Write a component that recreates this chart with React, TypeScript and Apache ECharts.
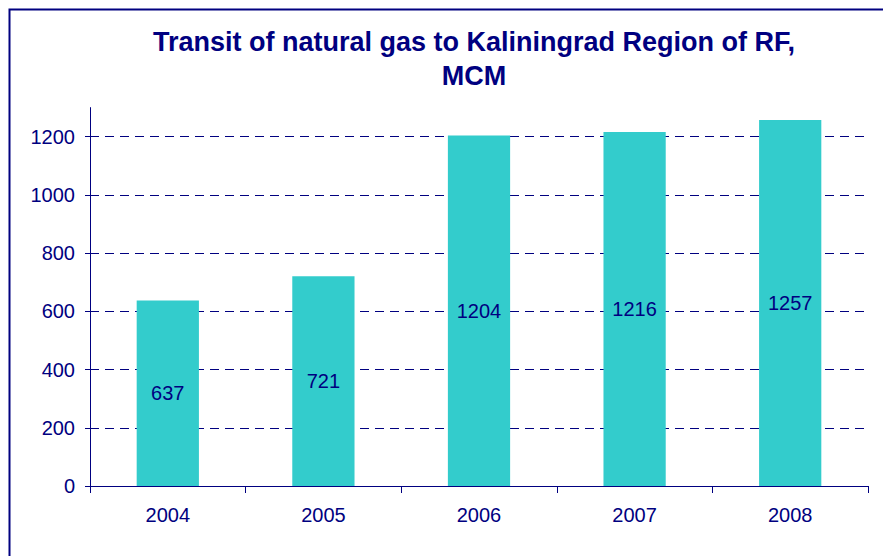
import React, { useEffect, useRef } from "react";
import * as echarts from "echarts";

const categories = ["2004", "2005", "2006", "2007", "2008"];
const transitValues = [637, 721, 1204, 1216, 1257];
const yTickValues = [0, 200, 400, 600, 800, 1000, 1200];
const yAxisMax = 1300;
const titleLines = ["Transit of natural gas to Kaliningrad Region of RF,", "MCM"];

const NAVY = "#000080";
const BAR = "#33CCCC";
const FONT = "'Liberation Sans', Arial, sans-serif";

export default function App() {
  const ref = useRef<HTMLDivElement>(null);
  useEffect(() => {
    if (!ref.current) return;
    const chart = echarts.init(ref.current, null, { renderer: "svg" });
    const splitColors = yTickValues.map(() => NAVY).concat(["rgba(0,0,0,0)"]);
    chart.setOption({
      animation: false,
      backgroundColor: "#ffffff",
      textStyle: { fontFamily: FONT },
      graphic: [
        {
          type: "rect",
          shape: { x: 9.5, y: 9.5, width: 1000, height: 1000 },
          style: { fill: "none", stroke: NAVY, lineWidth: 2 },
          silent: true,
        },
        {
          type: "text",
          x: 474,
          y: 25,
          style: {
            text: titleLines.join("\n"),
            fill: NAVY,
            font: `bold 27px ${FONT}`,
            textAlign: "center",
            lineHeight: 34,
          },
        },
      ],
      grid: { left: 90, right: 15, top: 107.6, bottom: 70, containLabel: false },
      xAxis: {
        type: "category",
        data: categories,
        boundaryGap: true,
        axisLine: { lineStyle: { color: NAVY, width: 1 } },
        axisTick: { show: true, alignWithLabel: false, length: 7, lineStyle: { color: NAVY } },
        axisLabel: { color: NAVY, fontSize: 20, margin: 19, fontFamily: FONT },
        splitLine: { show: false },
      },
      yAxis: {
        type: "value",
        min: 0,
        max: yAxisMax,
        interval: 200,
        axisLine: { show: true, lineStyle: { color: NAVY, width: 1 } },
        axisTick: { show: true, length: 5, customValues: yTickValues, lineStyle: { color: NAVY } },
        axisLabel: {
          color: NAVY,
          fontSize: 20,
          margin: 15,
          fontFamily: FONT,
          customValues: yTickValues,
          formatter: (v: number) => String(v),
        },
        splitLine: { show: true, lineStyle: { color: splitColors, type: [9, 6], width: 1 } },
      },
      series: [
        {
          type: "bar",
          data: transitValues,
          barWidth: "40%",
          itemStyle: { color: BAR },
          label: {
            show: true,
            position: "inside",
            color: NAVY,
            fontSize: 20,
            fontFamily: FONT,
          },
        },
      ],
    });
    return () => chart.dispose();
  }, []);
  return (
    <div
      ref={ref}
      style={{ position: "absolute", left: 0, top: 0, width: 883, height: 556, background: "#fff" }}
    />
  );
}
